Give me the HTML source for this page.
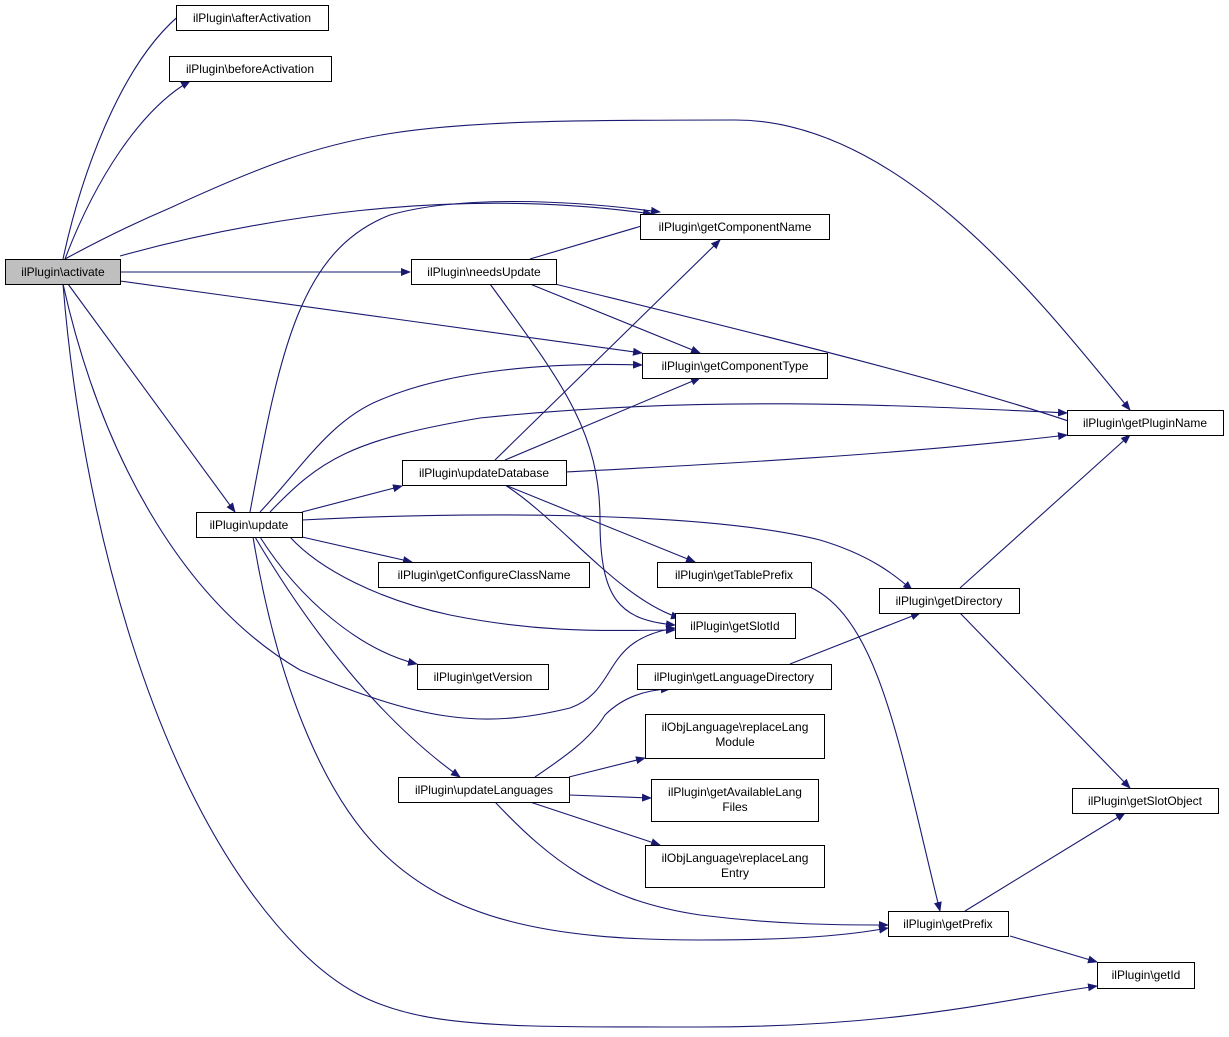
<!DOCTYPE html>
<html><head><meta charset="utf-8"><style>
html,body{margin:0;padding:0;background:#fff;}
svg text{font-family:"Liberation Sans",sans-serif;font-size:12px;fill:#000;}
</style></head><body>
<svg width="1229" height="1032" viewBox="0 0 1229 1032" xmlns="http://www.w3.org/2000/svg">
<defs><marker id="a" markerWidth="10" markerHeight="8" refX="9" refY="4" orient="auto" markerUnits="userSpaceOnUse"><path d="M0,0 L10,4 L0,8 Z" fill="#191970"/></marker></defs>
<g fill="none" stroke="#191970" stroke-width="1.1" marker-end="url(#a)">
<path d="M63,259 C80,180 120,60 186,10"/>
<path d="M65,259 C95,180 140,110 190,81"/>
<path d="M65,259 C100,240 130,225 170,208 C350,125 400,120 735,120 C900,120 1040,300 1130,410"/>
<path d="M120,256 C250,220 450,185 652,214"/>
<path d="M120,272 L410,272"/>
<path d="M120,281 L642,353"/>
<path d="M68,284 L235,512"/>
<path d="M63,284 C100,450 180,600 300,670 C420,720 480,730 570,708 C620,690 600,640 675,628"/>
<path d="M63,284 C80,500 150,800 300,950 C380,1030 450,1027 700,1027 C900,1027 1000,1000 1097,986"/>
<path d="M530,259 L655,222"/>
<path d="M530,284 L700,353"/>
<path d="M555,284 C700,320 950,380 1077,424"/>
<path d="M490,284 C560,380 600,430 600,520 C600,600 620,620 675,625"/>
<path d="M250,512 C280,350 300,250 390,215 C460,195 570,200 660,212"/>
<path d="M260,512 C300,470 330,420 380,400 C450,370 550,362 642,365"/>
<path d="M270,512 C320,460 350,440 480,418 C700,395 900,405 1067,413"/>
<path d="M302,512 L402,486"/>
<path d="M302,520 C450,512 700,510 820,540 C870,555 895,575 912,590"/>
<path d="M302,537 L412,562"/>
<path d="M290,537 C320,570 380,600 450,615 C550,635 620,630 675,630"/>
<path d="M260,537 C300,600 360,650 417,664"/>
<path d="M255,537 C310,630 380,720 460,777"/>
<path d="M253,537 C280,700 330,800 380,850 C450,920 550,940 700,940 C800,940 850,935 888,928"/>
<path d="M495,460 L720,240"/>
<path d="M505,460 L700,378"/>
<path d="M566,472 C700,465 900,455 1067,435"/>
<path d="M505,485 L695,562"/>
<path d="M505,485 C560,520 620,600 680,618"/>
<path d="M810,587 C880,620 900,750 940,911"/>
<path d="M960,588 L1130,435"/>
<path d="M960,613 L1130,788"/>
<path d="M790,664 L920,613"/>
<path d="M535,777 C560,760 590,740 605,715 C620,700 640,690 670,689"/>
<path d="M569,777 L645,758"/>
<path d="M569,795 L651,798"/>
<path d="M530,802 L660,845"/>
<path d="M495,802 C550,860 600,900 700,915 C780,925 840,925 888,925"/>
<path d="M965,911 L1125,813"/>
<path d="M1010,936 L1097,962"/>
</g>
<g stroke="#000" stroke-width="1" fill="#fff">
<rect x="5.5" y="259.5" width="115" height="25" fill="#bfbfbf"/>
<rect x="176.5" y="5.5" width="152" height="25"/>
<rect x="169.5" y="56.5" width="162" height="25"/>
<rect x="640.5" y="214.5" width="189" height="25"/>
<rect x="411.5" y="259.5" width="145" height="25"/>
<rect x="642.5" y="353.5" width="185" height="25"/>
<rect x="1067.5" y="410.5" width="156" height="25"/>
<rect x="402.5" y="460.5" width="164" height="25"/>
<rect x="196.5" y="512.5" width="106" height="25"/>
<rect x="378.5" y="562.5" width="211" height="25"/>
<rect x="657.5" y="562.5" width="154" height="25"/>
<rect x="879.5" y="588.5" width="140" height="25"/>
<rect x="675.5" y="613.5" width="120" height="25"/>
<rect x="417.5" y="664.5" width="131" height="25"/>
<rect x="637.5" y="664.5" width="194" height="25"/>
<rect x="645.5" y="714.5" width="179" height="44"/>
<rect x="398.5" y="777.5" width="171" height="25"/>
<rect x="651.5" y="779.5" width="167" height="42"/>
<rect x="1072.5" y="788.5" width="146" height="25"/>
<rect x="645.5" y="845.5" width="179" height="42"/>
<rect x="888.5" y="911.5" width="120" height="25"/>
<rect x="1097.5" y="962.5" width="97" height="26"/>
</g>
<g text-anchor="middle">
<text x="63" y="276">ilPlugin\activate</text>
<text x="252" y="22">ilPlugin\afterActivation</text>
<text x="250" y="73">ilPlugin\beforeActivation</text>
<text x="735" y="231">ilPlugin\getComponentName</text>
<text x="484" y="276">ilPlugin\needsUpdate</text>
<text x="735" y="370">ilPlugin\getComponentType</text>
<text x="1145" y="427">ilPlugin\getPluginName</text>
<text x="484" y="477">ilPlugin\updateDatabase</text>
<text x="249" y="529">ilPlugin\update</text>
<text x="484" y="579">ilPlugin\getConfigureClassName</text>
<text x="734" y="579">ilPlugin\getTablePrefix</text>
<text x="949" y="605">ilPlugin\getDirectory</text>
<text x="735" y="630">ilPlugin\getSlotId</text>
<text x="483" y="681">ilPlugin\getVersion</text>
<text x="734" y="681">ilPlugin\getLanguageDirectory</text>
<text x="735" y="731">ilObjLanguage\replaceLang</text>
<text x="735" y="746">Module</text>
<text x="484" y="794">ilPlugin\updateLanguages</text>
<text x="735" y="796">ilPlugin\getAvailableLang</text>
<text x="735" y="811">Files</text>
<text x="1145" y="805">ilPlugin\getSlotObject</text>
<text x="735" y="862">ilObjLanguage\replaceLang</text>
<text x="735" y="877">Entry</text>
<text x="948" y="928">ilPlugin\getPrefix</text>
<text x="1146" y="979">ilPlugin\getId</text>
</g>
</svg>
</body></html>
